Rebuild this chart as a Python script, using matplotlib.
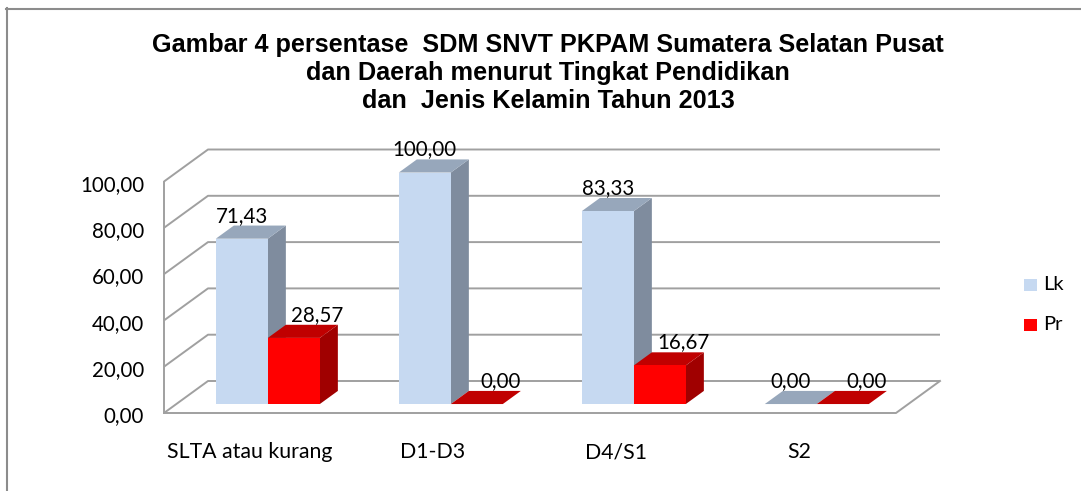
import matplotlib
matplotlib.use('Agg')
import matplotlib.pyplot as plt
from matplotlib.patches import Polygon, Rectangle

# ---------------- data ----------------
categories = ['SLTA atau kurang', 'D1-D3', 'D4/S1', 'S2']
lk = [71.43, 100.00, 83.33, 0.00]
pr = [28.57, 0.00, 16.67, 0.00]
series_names = ['Lk', 'Pr']
yticks = [0, 20, 40, 60, 80, 100]
title_lines = ['Gambar 4 persentase  SDM SNVT PKPAM Sumatera Selatan Pusat',
               'dan Daerah menurut Tingkat Pendidikan',
               'dan  Jenis Kelamin Tahun 2013']

# ---------------- style ----------------
title_font = 'Liberation Sans'
body_font = 'Lato'

colors = {
    'Lk': dict(front='#C6D9F1', top='#97A7BB', side='#7F8C9E'),
    'Pr': dict(front='#FF0000', top='#C00000', side='#A00000'),
}
grid_c = '#A0A0A0'

W, H = 1081, 491
fig = plt.figure(figsize=(W / 100, H / 100), dpi=100)
ax = fig.add_axes([0, 0, 1, 1])
PX_X = 183.0     # pixels per category
PX_V = 2.315     # pixels per value unit
X0, Y0 = 164, 413  # front-left floor corner (pixels from left / top)
ax.set_xlim(-X0 / PX_X, (W - X0) / PX_X)
ax.set_ylim(-(H - Y0) / PX_V, Y0 / PX_V)
ax.axis('off')

DX = 44 / PX_X   # depth offset in category units
DY = 32 / PX_V   # depth offset in value units
n = len(categories)
vmax = max(yticks)


def P(x, v, d):
    return (x + d * DX, v + d * DY)


# walls / gridlines
for t in yticks:
    xs, ys = zip(P(0, t, 0), P(0, t, 1), P(n, t, 1))
    ax.plot(xs, ys, color=grid_c, lw=1.4, zorder=1, solid_capstyle='butt')
ax.plot([0, 0], [0, vmax], color=grid_c, lw=1.4, zorder=1)
xs, ys = zip(P(0, 0, 0), P(n, 0, 0), P(n, 0, 1))
ax.plot(xs, ys, color=grid_c, lw=1.4, zorder=1)

# y tick labels
for t in yticks:
    ax.text(-20 / PX_X, t - 1.5, f'{t:.2f}'.replace('.', ','), ha='right', va='center',
            fontsize=14.8, family=body_font, color='black')

# category labels
for i, c in enumerate(categories):
    ax.text(i + 0.5 - 0.03, -17, c, ha='center', va='center',
            fontsize=15.3, family=body_font, color='black')

# bars
BW = 52 / PX_X
D0, D1 = 0.28, 0.69
label_dx = {'Lk': 0.0, 'Pr': 0.13}
z = 3
for i in range(n):
    for s, (name, vals) in enumerate(zip(series_names, [lk, pr])):
        v = vals[i]
        xl = i + 0.5 - BW + s * BW
        xr = xl + BW
        col = colors[name]
        front = [P(xl, 0, D0), P(xr, 0, D0), P(xr, v, D0), P(xl, v, D0)]
        top = [P(xl, v, D0), P(xr, v, D0), P(xr, v, D1), P(xl, v, D1)]
        side = [P(xr, 0, D0), P(xr, 0, D1), P(xr, v, D1), P(xr, v, D0)]
        for poly, fc in ((side, col['side']), (top, col['top']), (front, col['front'])):
            ax.add_patch(Polygon(poly, closed=True, facecolor=fc, edgecolor='none', lw=0, zorder=z))
        z += 1
        lx = (xl + xr) / 2 + D0 * DX + label_dx[name]
        ly = v + D0 * DY + 23 / PX_V
        ax.text(lx, ly, f'{v:.2f}'.replace('.', ','), ha='center', va='center',
                fontsize=14.8, family=body_font, color='black', zorder=50)

# title
for k, line in enumerate(title_lines):
    fig.text(548 / W, 1 - (45 + 28 * k) / H, line, ha='center', va='center',
             fontsize=18.2, fontweight='bold', family=title_font, color='black')

# legend
for k, name in enumerate(series_names):
    yc = 285 + 40 * k
    fig.patches.append(Rectangle((1024 / W, 1 - (yc + 6) / H), 13 / W, 12 / H,
                                 transform=fig.transFigure, facecolor=colors[name]['front'],
                                 edgecolor='none'))
    fig.text(1043 / W, 1 - yc / H, name, ha='left', va='center',
             fontsize=14.5, family=body_font, color='black')

# outer frame (left and top edges visible)
fig.add_artist(plt.Line2D([6.5 / W, 6.5 / W], [0, 1 - 8 / H], transform=fig.transFigure,
                          color='#8C8C8C', lw=1.5))
fig.add_artist(plt.Line2D([6 / W, 1], [1 - 8.5 / H, 1 - 8.5 / H], transform=fig.transFigure,
                          color='#8C8C8C', lw=1.5))

fig.savefig('out.png', dpi=100, facecolor='white')
